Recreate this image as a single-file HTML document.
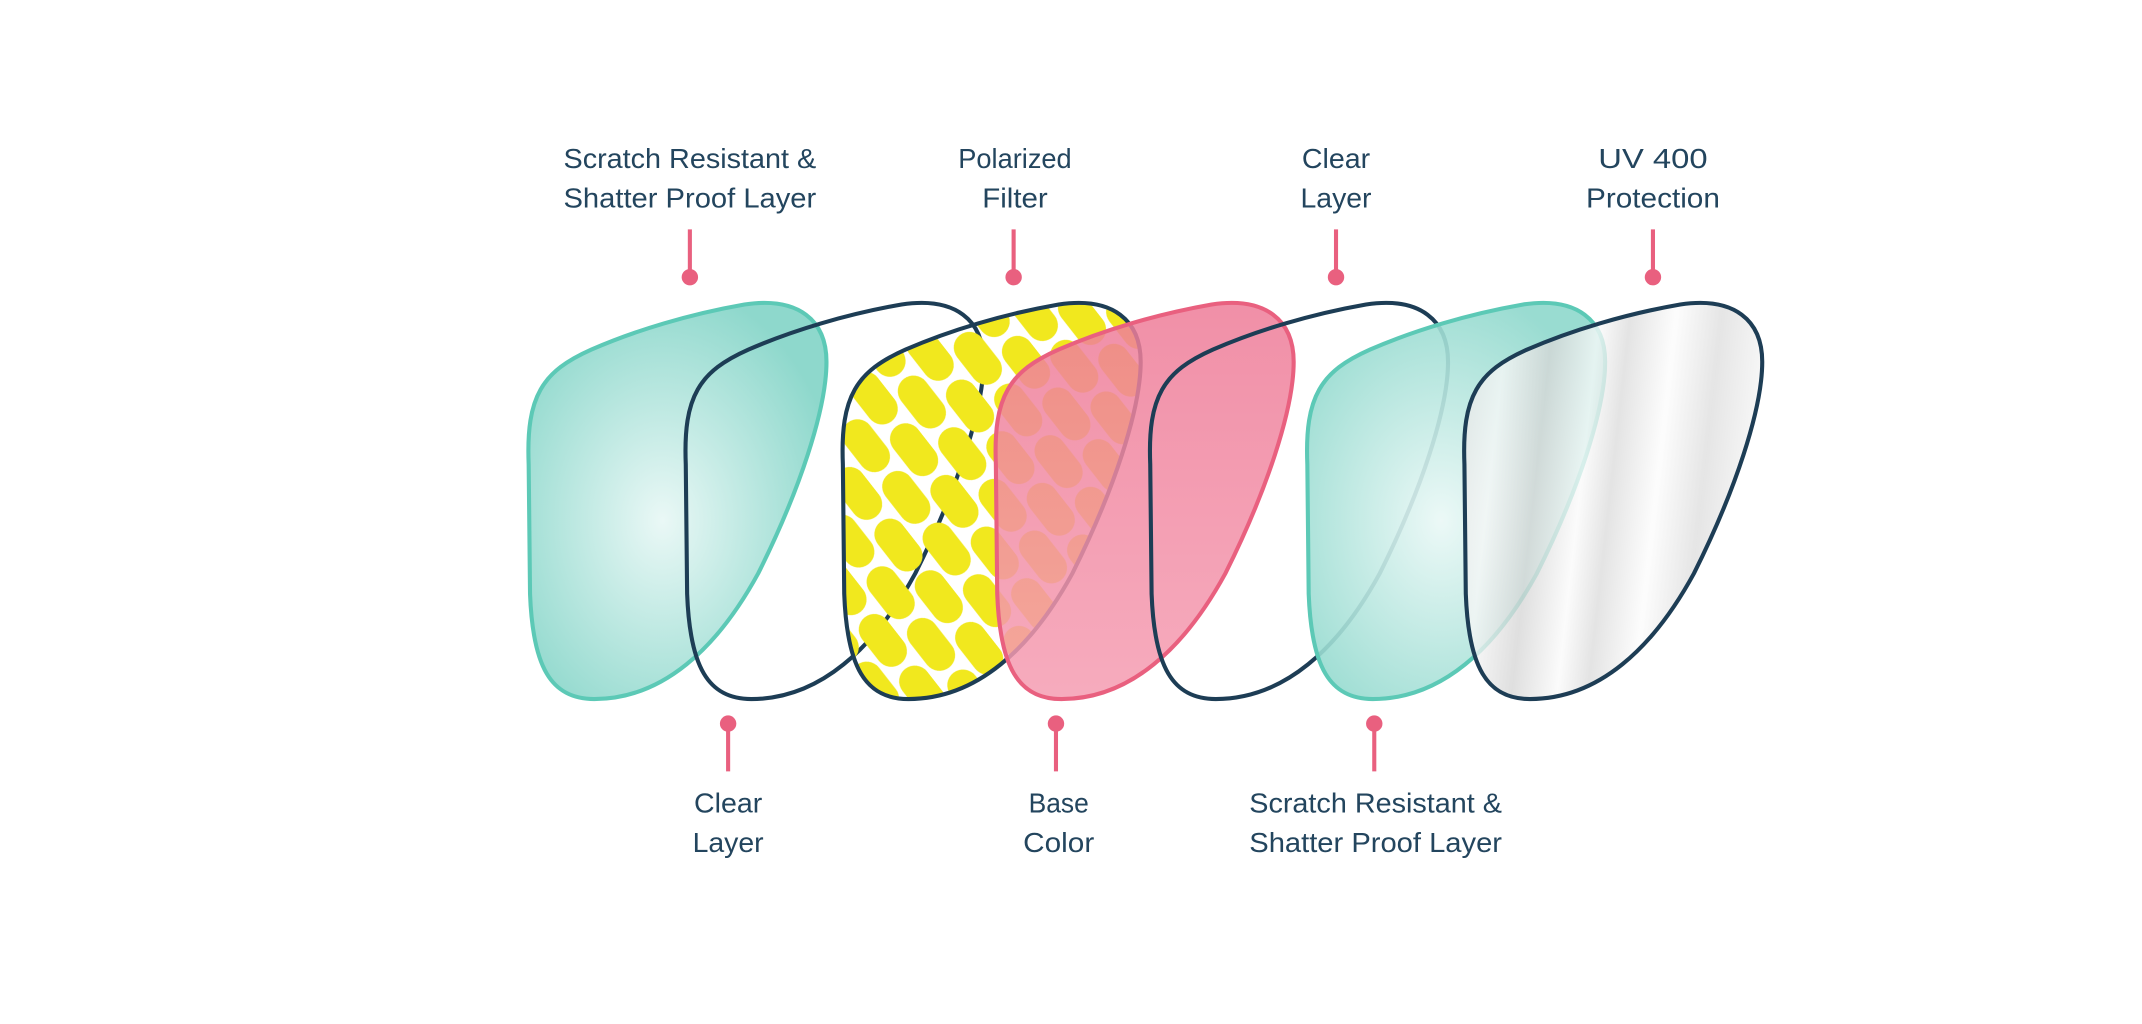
<!DOCTYPE html>
<html><head><meta charset="utf-8"><style>
html,body{margin:0;padding:0;background:#fff;}
svg{display:block;}
text{font-family:"Liberation Sans",sans-serif;font-size:20px;fill:#23455e;text-anchor:middle;}
</style></head><body>
<svg width="2142" height="1024" viewBox="0 0 1568 750" preserveAspectRatio="none" xmlns="http://www.w3.org/2000/svg">
<defs>
<path id="L" d="M 2,120 C 0,70 12,52 48,36 C 80,22 120,10 160,3 C 200,-3 220,15 220,45 C 220,80 200,140 170,200 C 140,255 100,292 50,292 C 18,292 5,268 3,215 Z"/>
<radialGradient id="tg" cx="0.45" cy="0.55" r="0.6">
<stop offset="0" stop-color="#eaf8f6"/><stop offset="1" stop-color="#8ed8cc"/></radialGradient>
<linearGradient id="pg" x1="0" y1="0" x2="0" y2="1">
<stop offset="0" stop-color="#ee7c98"/><stop offset="1" stop-color="#f59db2"/></linearGradient>
<linearGradient id="sg" x1="0" y1="0" x2="1" y2="0.15">
<stop offset="0" stop-color="#e2e2e2"/><stop offset="0.15" stop-color="#f7f7f7"/><stop offset="0.3" stop-color="#d6d6d6"/>
<stop offset="0.45" stop-color="#fafafa"/><stop offset="0.55" stop-color="#dcdcdc"/><stop offset="0.7" stop-color="#fcfcfc"/>
<stop offset="0.85" stop-color="#dedede"/><stop offset="1" stop-color="#f4f4f4"/></linearGradient>
<pattern id="pills" width="48" height="52" patternUnits="userSpaceOnUse" patternTransform="rotate(52)">
<rect x="2" y="2" width="43" height="23" rx="11.5" fill="#f1e81e"/>
<rect x="26" y="28" width="43" height="23" rx="11.5" fill="#f1e81e"/>
<rect x="-22" y="28" width="43" height="23" rx="11.5" fill="#f1e81e"/>
</pattern>
<clipPath id="yc"><use href="#L" transform="translate(615,220)"/></clipPath>
</defs>

<use href="#L" transform="translate(385,220)" fill="url(#tg)" stroke="#5cc9b6" stroke-width="3"/>
<use href="#L" transform="translate(615,220)" fill="#fff"/>
<use href="#L" transform="translate(500,220)" fill="none" stroke="#1d3d55" stroke-width="3"/>
<rect x="600" y="200" width="260" height="330" fill="url(#pills)" clip-path="url(#yc)"/>
<use href="#L" transform="translate(615,220)" fill="none" stroke="#1d3d55" stroke-width="3"/>
<use href="#L" transform="translate(727,220)" fill="url(#pg)" fill-opacity="0.85" stroke="#e9607f" stroke-width="3"/>
<use href="#L" transform="translate(840,220)" fill="none" stroke="#1d3d55" stroke-width="3"/>
<use href="#L" transform="translate(955,220)" fill="url(#tg)" fill-opacity="0.9" stroke="#5cc9b6" stroke-width="3"/>
<use href="#L" transform="translate(1070,220)" fill="url(#sg)" fill-opacity="0.78" stroke="#1d3d55" stroke-width="3"/>

<g stroke="#e9607f" stroke-width="3" fill="#e9607f">
<line x1="505" y1="168" x2="505" y2="200"/><circle cx="505" cy="203" r="6" stroke="none"/>
<line x1="742" y1="168" x2="742" y2="200"/><circle cx="742" cy="203" r="6" stroke="none"/>
<line x1="978" y1="168" x2="978" y2="200"/><circle cx="978" cy="203" r="6" stroke="none"/>
<line x1="1210" y1="168" x2="1210" y2="200"/><circle cx="1210" cy="203" r="6" stroke="none"/>
<line x1="533" y1="532" x2="533" y2="565"/><circle cx="533" cy="530" r="6" stroke="none"/>
<line x1="773" y1="532" x2="773" y2="565"/><circle cx="773" cy="530" r="6" stroke="none"/>
<line x1="1006" y1="532" x2="1006" y2="565"/><circle cx="1006" cy="530" r="6" stroke="none"/>
</g>

<text x="505" y="123" textLength="185" lengthAdjust="spacingAndGlyphs">Scratch Resistant &amp;</text>
<text x="505" y="152" textLength="185" lengthAdjust="spacingAndGlyphs">Shatter Proof Layer</text>
<text x="743" y="123" textLength="83" lengthAdjust="spacingAndGlyphs">Polarized</text>
<text x="743" y="152" textLength="48" lengthAdjust="spacingAndGlyphs">Filter</text>
<text x="978" y="123" textLength="50" lengthAdjust="spacingAndGlyphs">Clear</text>
<text x="978" y="152" textLength="52" lengthAdjust="spacingAndGlyphs">Layer</text>
<text x="1210" y="123" textLength="80" lengthAdjust="spacingAndGlyphs">UV 400</text>
<text x="1210" y="152" textLength="98" lengthAdjust="spacingAndGlyphs">Protection</text>
<text x="533" y="595" textLength="50" lengthAdjust="spacingAndGlyphs">Clear</text>
<text x="533" y="624" textLength="52" lengthAdjust="spacingAndGlyphs">Layer</text>
<text x="775" y="595" textLength="44" lengthAdjust="spacingAndGlyphs">Base</text>
<text x="775" y="624" textLength="52" lengthAdjust="spacingAndGlyphs">Color</text>
<text x="1007" y="595" textLength="185" lengthAdjust="spacingAndGlyphs">Scratch Resistant &amp;</text>
<text x="1007" y="624" textLength="185" lengthAdjust="spacingAndGlyphs">Shatter Proof Layer</text>
</svg>
</body></html>
